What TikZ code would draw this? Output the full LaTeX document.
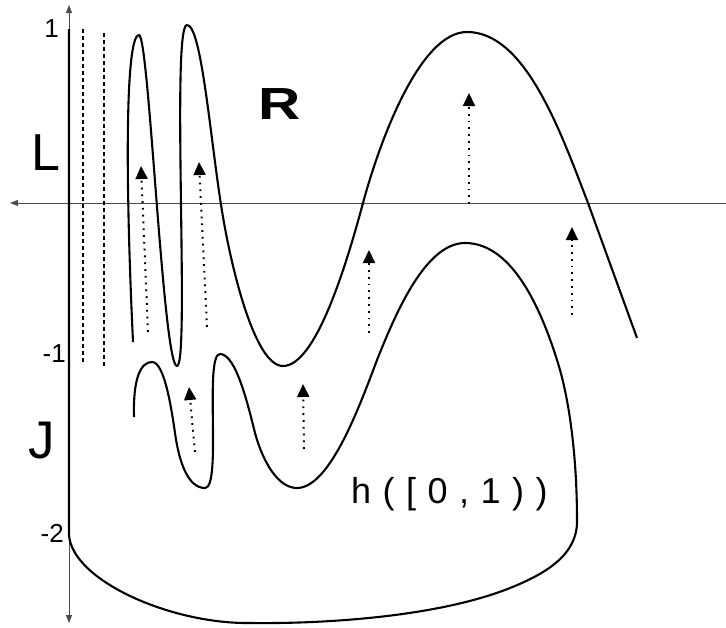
\documentclass[tikz,border=0pt]{standalone}
\usepackage{fontspec}
\setmainfont{Liberation Sans}
\usetikzlibrary{arrows.meta}
\begin{document}
\begin{tikzpicture}[x=1pt,y=-1pt,
  curve/.style={line width=2.1pt, line join=round, black},
  axis/.style={line width=0.8pt, black!70},
  dashline/.style={line width=2pt, dash pattern=on 4pt off 3pt},
  push/.style={line width=2pt, dash pattern=on 1.8pt off 5pt, -{Triangle[width=12pt,length=13pt]}},
  lab/.style={inner sep=0pt, text=black},
  tick/.style={lab, anchor=east, font=\fontsize{26}{26}\selectfont}
]
\useasboundingbox (0,0) rectangle (726,627);
% axes
\coordinate (vtop) at (69,5);
\coordinate (vbot) at (69,623);
\coordinate (hl) at (10,203);
\coordinate (hr) at (726,203);
\draw[axis, {Triangle[width=6pt,length=8pt]}-{Triangle[width=6pt,length=8pt]}] (vtop) -- (vbot);
\draw[axis, -{Triangle[width=6pt,length=8pt]}] (hr) -- (hl);
% dashed vertical lines
\coordinate (d1t) at (83,29);  \coordinate (d1b) at (83,363);
\coordinate (d2t) at (104,33); \coordinate (d2b) at (104,366);
\draw[dashline] (d1t) -- (d1b);
\draw[dashline] (d2t) -- (d2b);
% upper curve
\draw[curve] (133,342) .. controls (124,150) and (127,35) .. (139,35)
  .. controls (149,35) and (163,366) .. (177,366)
  .. controls (190,366) and (171,25) .. (187,25)
  .. controls (202,25) and (211,147) .. (223,217)
  .. controls (232,270) and (255,366) .. (283,366)
  .. controls (315,366) and (345,270) .. (363,203)
  .. controls (380,140) and (420,32) .. (467,32)
  .. controls (525,32) and (560,130) .. (588,203)
  -- (637,338);
% lower closed curve
\draw[curve] (134,417) .. controls (133,380) and (140,362) .. (152,362)
  .. controls (164,362) and (171,405) .. (175,433)
  .. controls (179,462) and (188,488) .. (205,488)
  .. controls (222,488) and (204,354) .. (220,354)
  .. controls (236,354) and (248,405) .. (255,433)
  .. controls (263,462) and (278,488) .. (297,488)
  .. controls (330,488) and (360,405) .. (377,360)
  .. controls (395,315) and (425,243) .. (465,243)
  .. controls (505,243) and (535,290) .. (557,360)
  .. controls (570,400) and (577,460) .. (577,520)
  .. controls (578,555) and (545,574) .. (510,588)
  .. controls (440,616) and (330,624) .. (250,623)
  .. controls (170,624) and (72,580) .. (69,535)
  -- (69,29);
% dotted push arrows
\coordinate (a1s) at (148,332); \coordinate (a1e) at (141,166);
\coordinate (a2s) at (207,327); \coordinate (a2e) at (199,162);
\coordinate (a3s) at (195,452); \coordinate (a3e) at (189,387);
\coordinate (a4s) at (304,449); \coordinate (a4e) at (303,384);
\coordinate (a5s) at (369,333); \coordinate (a5e) at (369,250);
\coordinate (a6s) at (469,204); \coordinate (a6e) at (469,93);
\coordinate (a7s) at (572,315); \coordinate (a7e) at (572,227);
\draw[push] (a1s) -- (a1e);
\draw[push] (a2s) -- (a2e);
\draw[push] (a3s) -- (a3e);
\draw[push] (a4s) -- (a4e);
\draw[push] (a5s) -- (a5e);
\draw[push] (a6s) -- (a6e);
\draw[push] (a7s) -- (a7e);
% labels
\node[tick] (one) at (59,28.5) {1};
\node[tick] (mone) at (66,353.5) {-1};
\node[tick] (mtwo) at (64,533.5) {-2};
\node[lab] (L) at (46,153) {\fontsize{52}{52}\selectfont L};
\node[lab] (J) at (42,441) {\fontsize{53}{53}\selectfont J};
\node[lab] (R) at (280,104) {\fontsize{45}{45}\selectfont\bfseries\scalebox{1.3}[1]{R}};
\node[lab, anchor=base west] (h) at (351,503) {\fontsize{36}{36}\selectfont h\kern11.5pt(\kern11.5pt[\kern11.5pt0\kern11.5pt,\kern11.5pt1\kern11.5pt)\kern11.5pt)};
\end{tikzpicture}
\end{document}
